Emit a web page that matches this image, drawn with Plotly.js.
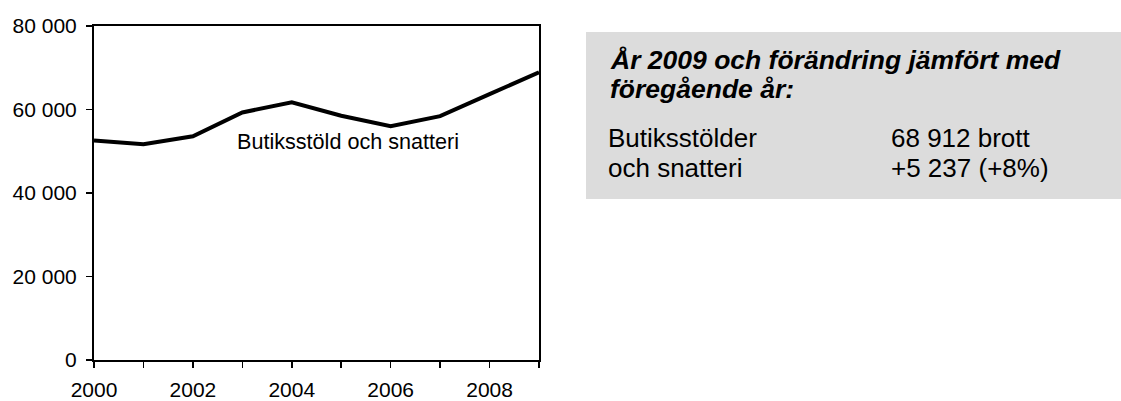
<!DOCTYPE html>
<html>
<head>
<meta charset="utf-8">
<script src="https://cdn.plot.ly/plotly-3.0.1.min.js"></script>
<style>
  html, body { margin: 0; padding: 0; background: #ffffff; }
  #chart { width: 1121px; height: 401px; }
</style>
</head>
<body>
<div id="chart"></div>
<script>
// ---- data ----
const years = [2000, 2001, 2002, 2003, 2004, 2005, 2006, 2007, 2008, 2009];
const thefts = [52600, 51700, 53600, 59300, 61700, 58500, 56000, 58400, 63675, 68912];
const xTickVals = [2000, 2001, 2002, 2003, 2004, 2005, 2006, 2007, 2008, 2009];
const xTickText = ['2000', '', '2002', '', '2004', '', '2006', '', '2008', ''];
const yTickVals = [0, 20000, 40000, 60000, 80000];
const yTickText = ['0', '20 000', '40 000', '60 000', '80 000'];
const seriesLabel = 'Butiksstöld och snatteri';
const boxTitle1 = 'År 2009 och förändring jämfört med';
const boxTitle2 = 'föregående år:';
const boxRowLabels = ['Butiksstölder', 'och snatteri'];
const boxRowValues = ['68 912 brott', '+5 237 (+8%)'];

// ---- layout geometry (pixels) ----
const W = 1121, H = 401;
const plotL = 94, plotR = 539, plotT = 26, plotB = 360;
const px = x => (x - plotL) / (plotR - plotL);
const py = y => (plotB - y) / (plotB - plotT);
const FONT = 'Liberation Sans, Arial, sans-serif';

const trace = {
  x: years, y: thefts, type: 'scatter', mode: 'lines',
  line: { color: '#000000', width: 4 },
  hoverinfo: 'skip', showlegend: false
};

const ann = (text, x, y, size, extra) => Object.assign({
  text: text, xref: 'paper', yref: 'paper', x: px(x), y: py(y),
  xanchor: 'left', yanchor: 'middle', showarrow: false, borderpad: 0,
  font: { family: FONT, size: size, color: '#000000' }
}, extra || {});

const layout = {
  width: W, height: H,
  margin: { l: plotL, r: W - plotR, t: plotT, b: H - plotB, pad: 0 },
  paper_bgcolor: '#ffffff', plot_bgcolor: '#ffffff',
  showlegend: false,
  xaxis: {
    range: [2000, 2009], tickmode: 'array', tickvals: xTickVals, ticktext: xTickText,
    ticks: 'outside', ticklen: 6, tickwidth: 1.5, tickcolor: '#000000',
    showline: true, linecolor: '#000000', linewidth: 2, mirror: true,
    showgrid: false, zeroline: false, fixedrange: true,
    tickfont: { family: FONT, size: 21, color: '#000000' },
    ticklabelstandoff: 4
  },
  yaxis: {
    range: [0, 80000], tickmode: 'array', tickvals: yTickVals, ticktext: yTickText,
    ticks: 'outside', ticklen: 6, tickwidth: 1.5, tickcolor: '#000000',
    showline: true, linecolor: '#000000', linewidth: 2, mirror: true,
    showgrid: false, zeroline: false, fixedrange: true,
    tickfont: { family: FONT, size: 21, color: '#000000' },
    ticklabelstandoff: 5
  },
  shapes: [{
    type: 'rect', xref: 'paper', yref: 'paper',
    x0: px(586), x1: px(1121), y0: py(199), y1: py(32),
    fillcolor: '#dcdcdc', line: { width: 0 }, layer: 'below'
  }],
  annotations: [
    ann(seriesLabel, 236, 141, 21.6),
    ann('<b><i>' + boxTitle1 + '</i></b>', 609, 60, 26.5),
    ann('<b><i>' + boxTitle2 + '</i></b>', 609, 89, 26.5),
    ann(boxRowLabels[0], 607, 138, 26),
    ann(boxRowLabels[1], 607, 168, 26),
    ann(boxRowValues[0], 890, 138, 26),
    ann(boxRowValues[1], 890, 168, 26)
  ]
};

Plotly.newPlot('chart', [trace], layout, { displayModeBar: false, staticPlot: true });
</script>
</body>
</html>
